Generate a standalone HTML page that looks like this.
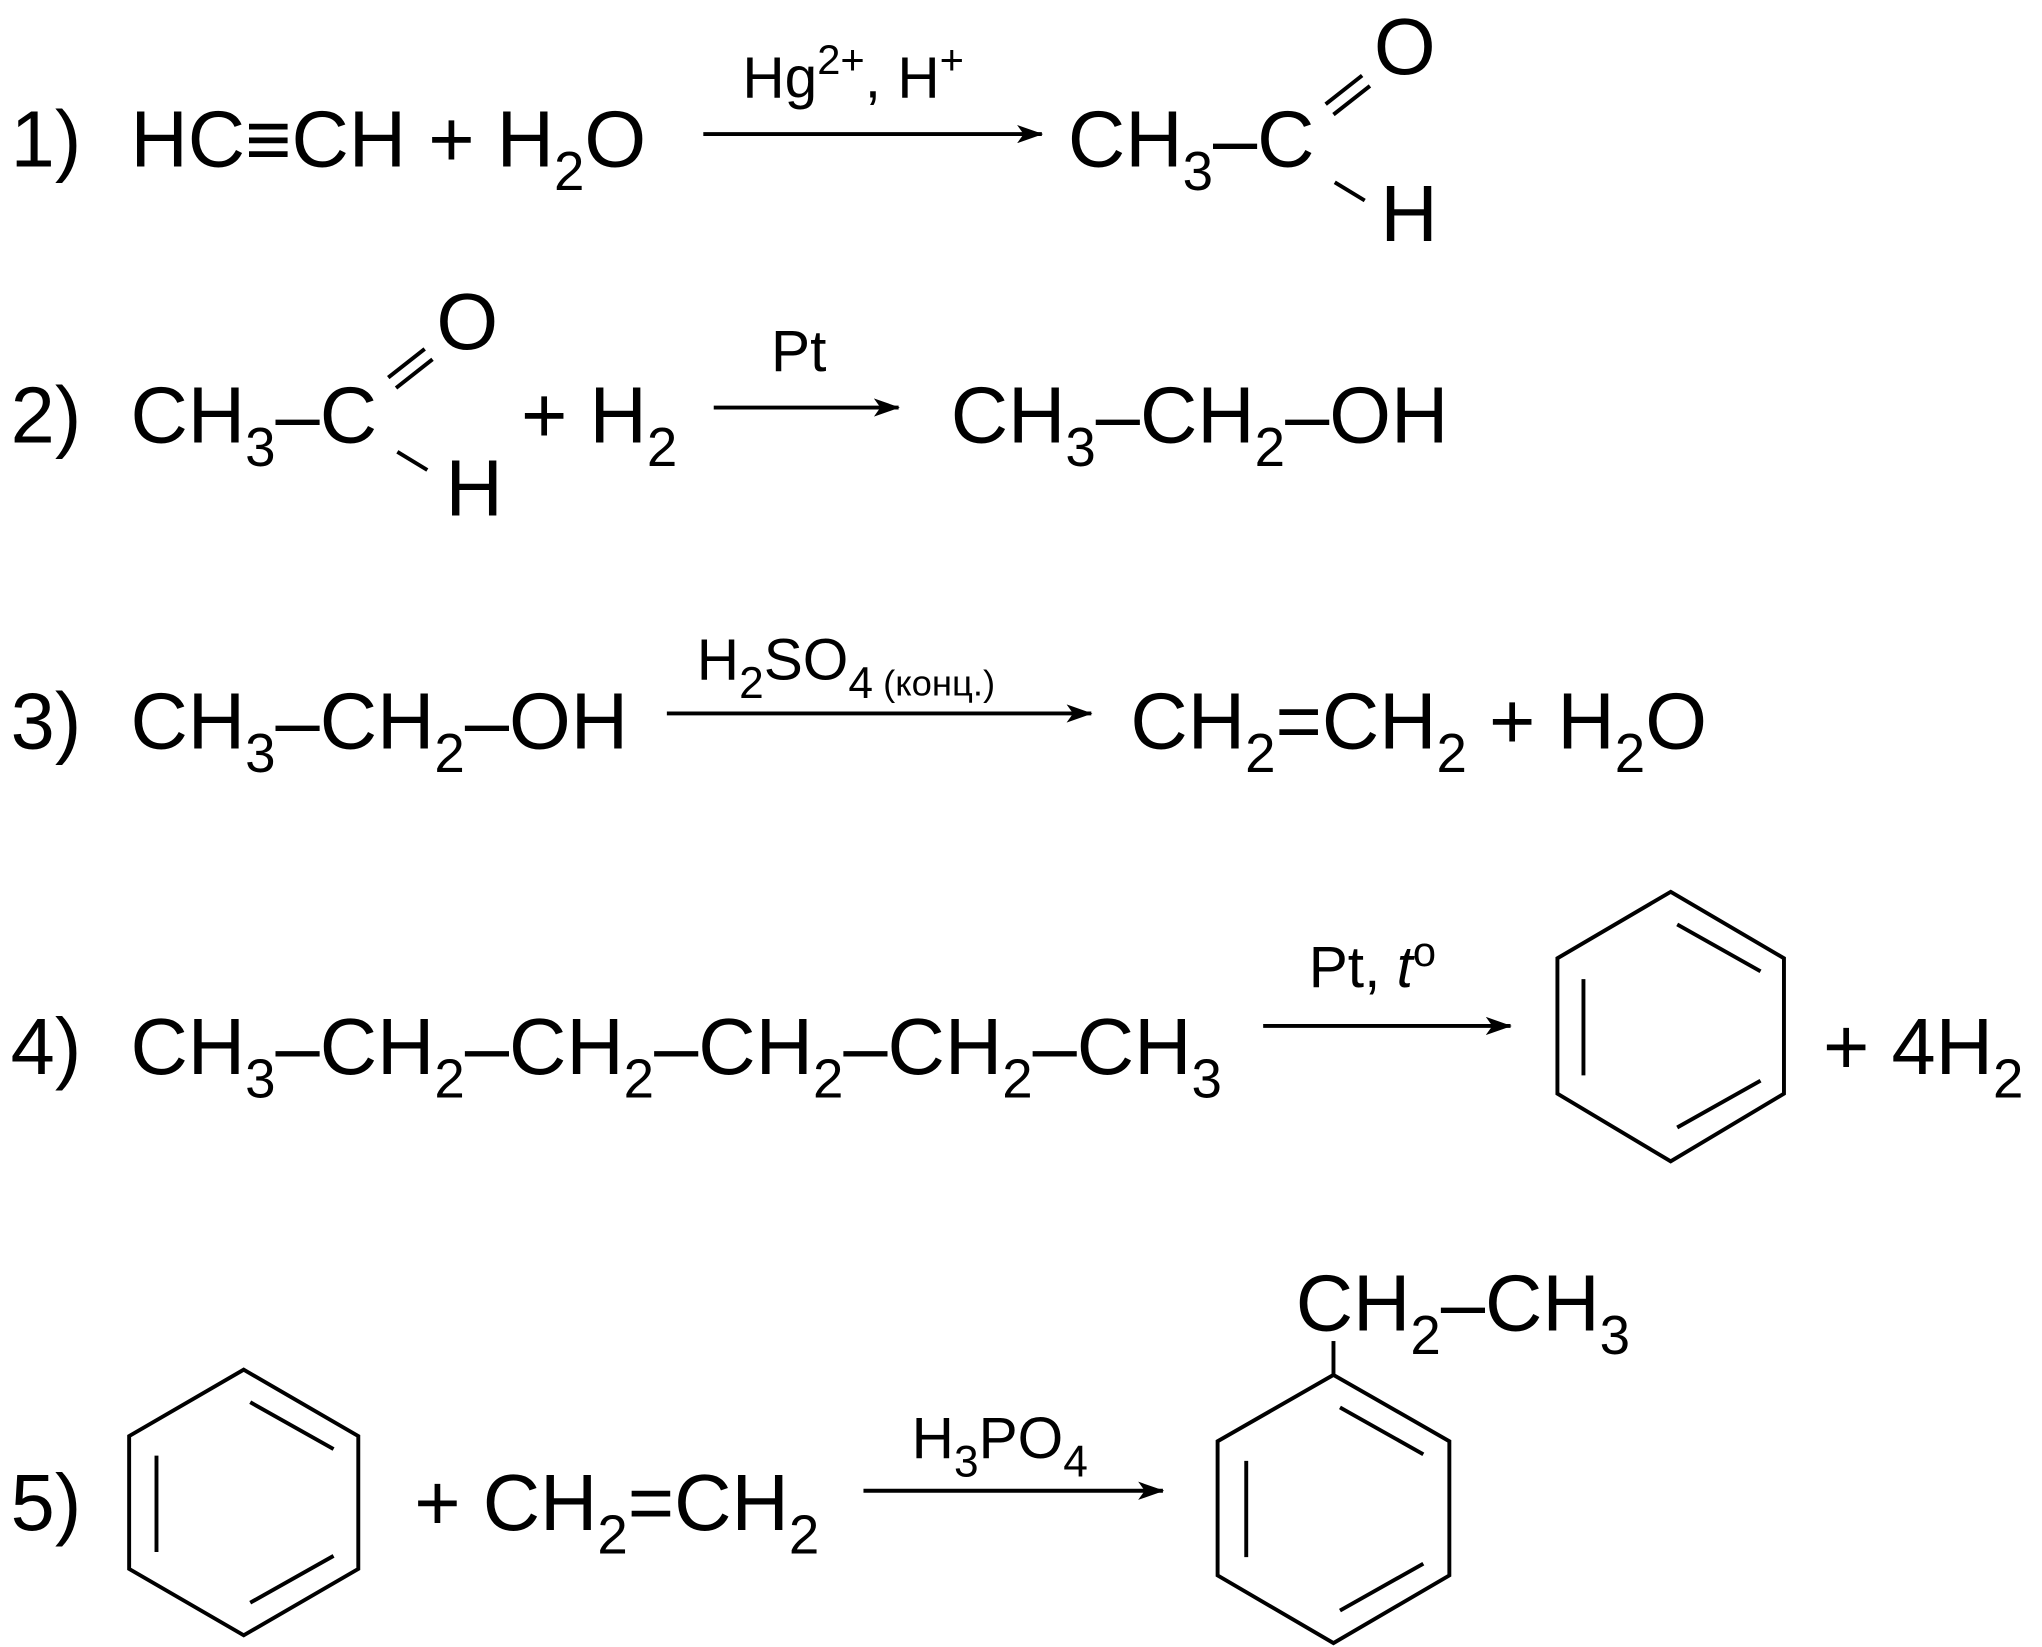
<!DOCTYPE html>
<html><head><meta charset="utf-8"><style>
html,body{margin:0;padding:0;background:#fff;}
svg{display:block;}
text{font-family:"Liberation Sans",sans-serif;fill:#000;}
.m{font-size:61px;}
.s{font-size:42px;}
.l{font-size:45px;}
</style></head><body>
<svg width="2042" height="1647" viewBox="0 0 1568 1265" xmlns="http://www.w3.org/2000/svg">
<defs><marker id="a" markerWidth="20" markerHeight="14" refX="19" refY="7" orient="auto" markerUnits="userSpaceOnUse"><path d="M0,0 L20,7 L0,14 L5,7 Z" fill="#000"/></marker></defs>
<g stroke="#000" stroke-width="3" fill="none">
<line x1="540" y1="103" x2="800" y2="103" marker-end="url(#a)"/>
<line x1="548" y1="313" x2="690" y2="313" marker-end="url(#a)"/>
<line x1="512" y1="548" x2="838" y2="548" marker-end="url(#a)"/>
<line x1="970" y1="788" x2="1160" y2="788" marker-end="url(#a)"/>
<line x1="663" y1="1145" x2="893" y2="1145" marker-end="url(#a)"/>
<line x1="1018" y1="80" x2="1046" y2="58"/><line x1="1024" y1="88" x2="1052" y2="66"/>
<line x1="1025" y1="140" x2="1048" y2="154"/>
<line x1="298" y1="290" x2="326" y2="268"/><line x1="304" y1="298" x2="332" y2="276"/>
<line x1="305" y1="347" x2="328" y2="361"/>
<polygon points="1283,685 1370,736 1370,840 1283,892 1196,840 1196,736"/>
<line x1="1288" y1="710" x2="1352" y2="746"/>
<line x1="1216" y1="752" x2="1216" y2="826"/>
<line x1="1288" y1="866" x2="1352" y2="830"/>
<polygon points="187,1052 275,1103 275,1205 187,1256 99,1205 99,1103"/>
<line x1="192" y1="1077" x2="256" y2="1113"/>
<line x1="120" y1="1118" x2="120" y2="1192"/>
<line x1="192" y1="1231" x2="256" y2="1195"/>
<polygon points="1024,1056 1113,1107 1113,1210 1024,1262 935,1210 935,1107"/>
<line x1="1029" y1="1081" x2="1093" y2="1117"/>
<line x1="957" y1="1122" x2="957" y2="1196"/>
<line x1="1029" y1="1237" x2="1093" y2="1201"/>
<line x1="1024" y1="1056" x2="1024" y2="1030"/>
</g>
<text class="m" x="8" y="128">1)</text>
<text class="m" x="100" y="128">HC≡CH + H<tspan class="s" dy="18">2</tspan><tspan dy="-18">O</tspan></text>
<text class="l" x="570" y="75">Hg<tspan font-size="32" dy="-18">2+</tspan><tspan dy="18">, H</tspan><tspan font-size="32" dy="-18">+</tspan></text>
<text class="m" x="820" y="128">CH<tspan class="s" dy="18">3</tspan><tspan dy="-18">–C</tspan></text>
<text class="m" x="1055" y="57">O</text>
<text class="m" x="1060" y="185">H</text>
<text class="m" x="8" y="340">2)</text>
<text class="m" x="100" y="340">CH<tspan class="s" dy="18">3</tspan><tspan dy="-18">–C</tspan></text>
<text class="m" x="335" y="268">O</text>
<text class="m" x="342" y="396">H</text>
<text class="m" x="400" y="340">+ H<tspan class="s" dy="18">2</tspan></text>
<text class="l" x="592" y="285">Pt</text>
<text class="m" x="730" y="340">CH<tspan class="s" dy="18">3</tspan><tspan dy="-18">–CH</tspan><tspan class="s" dy="18">2</tspan><tspan dy="-18">–OH</tspan></text>
<text class="m" x="8" y="575">3)</text>
<text class="m" x="100" y="575">CH<tspan class="s" dy="18">3</tspan><tspan dy="-18">–CH</tspan><tspan class="s" dy="18">2</tspan><tspan dy="-18">–OH</tspan></text>
<text class="l" x="535" y="522">H<tspan font-size="34" dy="14">2</tspan><tspan dy="-14">SO</tspan><tspan font-size="34" dy="14">4</tspan><tspan font-size="28" dy="-2"> (конц.)</tspan></text>
<text class="m" x="868" y="575">CH<tspan class="s" dy="18">2</tspan><tspan dy="-18">=CH</tspan><tspan class="s" dy="18">2</tspan><tspan dy="-18"> + H</tspan><tspan class="s" dy="18">2</tspan><tspan dy="-18">O</tspan></text>
<text class="m" x="8" y="825">4)</text>
<text class="m" x="100" y="825">CH<tspan class="s" dy="18">3</tspan><tspan dy="-18">–CH</tspan><tspan class="s" dy="18">2</tspan><tspan dy="-18">–CH</tspan><tspan class="s" dy="18">2</tspan><tspan dy="-18">–CH</tspan><tspan class="s" dy="18">2</tspan><tspan dy="-18">–CH</tspan><tspan class="s" dy="18">2</tspan><tspan dy="-18">–CH</tspan><tspan class="s" dy="18">3</tspan></text>
<text class="l" x="1005" y="758">Pt, <tspan font-style="italic">t</tspan><tspan font-size="32" dy="-16">o</tspan></text>
<text class="m" x="1400" y="825">+ 4H<tspan class="s" dy="18">2</tspan></text>
<text class="m" x="8" y="1175">5)</text>
<text class="m" x="318" y="1175">+ CH<tspan class="s" dy="18">2</tspan><tspan dy="-18">=CH</tspan><tspan class="s" dy="18">2</tspan></text>
<text class="l" x="700" y="1120">H<tspan font-size="34" dy="14">3</tspan><tspan dy="-14">PO</tspan><tspan font-size="34" dy="14">4</tspan></text>
<text class="m" x="995" y="1022">CH<tspan class="s" dy="18">2</tspan><tspan dy="-18">–CH</tspan><tspan class="s" dy="18">3</tspan></text>
</svg>
</body></html>
